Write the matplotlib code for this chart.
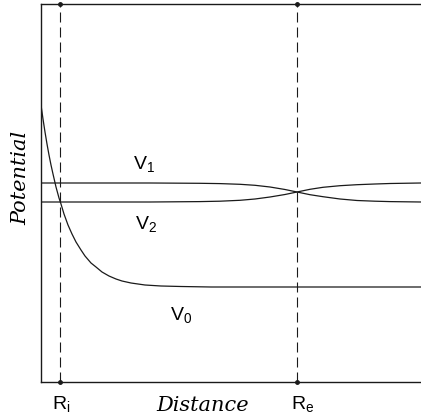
import matplotlib
matplotlib.use("Agg")
import matplotlib.pyplot as plt
import matplotlib.transforms as mtransforms

plt.rcParams['mathtext.fontset'] = 'custom'
plt.rcParams['mathtext.rm'] = 'Liberation Sans'

# distance axis in arbitrary units, potential in arbitrary units
Ri = 19
Re = 256

v0_x = [0, 2, 4, 6, 8, 10, 12, 15, 18, 20, 23, 27, 31, 35, 40, 44, 50, 55,
        61, 68, 75, 81, 90, 104, 120, 140, 170, 380]
v0_y = [277, 263, 250, 238, 227, 217, 208, 195, 184, 178, 168, 157, 148, 140,
        132, 126, 119, 115, 110, 106, 103, 101, 99, 97, 96, 95.5, 95, 95]

v12_x = [0, 109, 159, 179, 199, 214, 229, 244, 256, 269, 282, 299, 316, 334, 349, 380]
v1_y = [199, 199, 198.7, 198.4, 197.7, 196.7, 195, 192.5, 190, 187.3, 185.3,
        183, 181.5, 180.8, 180.4, 180]
v2_y = [180, 180, 180.4, 180.8, 181.7, 183, 185, 187.5, 190, 192.7, 194.7,
        196.3, 197.3, 198, 198.5, 199]

labels_x = ['R$_\\mathrm{i}$', 'R$_\\mathrm{e}$']

fig = plt.figure(figsize=(4.21, 4.19), dpi=100)
ax = fig.add_axes([41 / 421, 37 / 419, 380 / 421, 377.5 / 419])

lc = '#1a1a1a'
ax.plot(v0_x, v0_y, color=lc, lw=0.9)
ax.plot(v12_x, v1_y, color=lc, lw=0.9)
ax.plot(v12_x, v2_y, color=lc, lw=0.9)

for r in (Ri, Re):
    ax.axvline(r, color=lc, lw=0.8, ls=(0, (9, 4.5)))
    ax.plot([r, r], [0, 377.5], 'o', color=lc, ms=2.5, clip_on=False)

ax.set_xlim(0, 380)
ax.set_ylim(0, 377.5)
ax.set_xticks([])
ax.set_yticks([])
for s in ('left', 'top', 'bottom'):
    ax.spines[s].set_color(lc)
    ax.spines[s].set_linewidth(1.0)
ax.spines['right'].set_visible(False)

sans = 'Liberation Sans'
ax.text(92, 212, 'V$_\\mathrm{1}$', fontsize=14, family=sans, va='baseline')
ax.text(94, 152, 'V$_\\mathrm{2}$', fontsize=14, family=sans, va='baseline')
ax.text(129, 61, 'V$_\\mathrm{0}$', fontsize=14, family=sans, va='baseline')

trans = mtransforms.blended_transform_factory(ax.transData, fig.transFigure)
for r, lab, dx in zip((Ri, Re), labels_x, (1.5, 6)):
    ax.text(r + dx, 1 - 410 / 419, lab, fontsize=14, family=sans,
            ha='center', va='baseline', transform=trans)

fig.text(203 / 421, 1 - 411 / 419, 'Distance', fontsize=15, family='DejaVu Serif',
         style='italic', ha='center', va='baseline')
fig.text(21 / 421, 1 - 178 / 419, 'Potential', fontsize=15, family='DejaVu Serif',
         style='italic', ha='center', va='center', rotation=90)

fig.savefig('out.png', dpi=100)
